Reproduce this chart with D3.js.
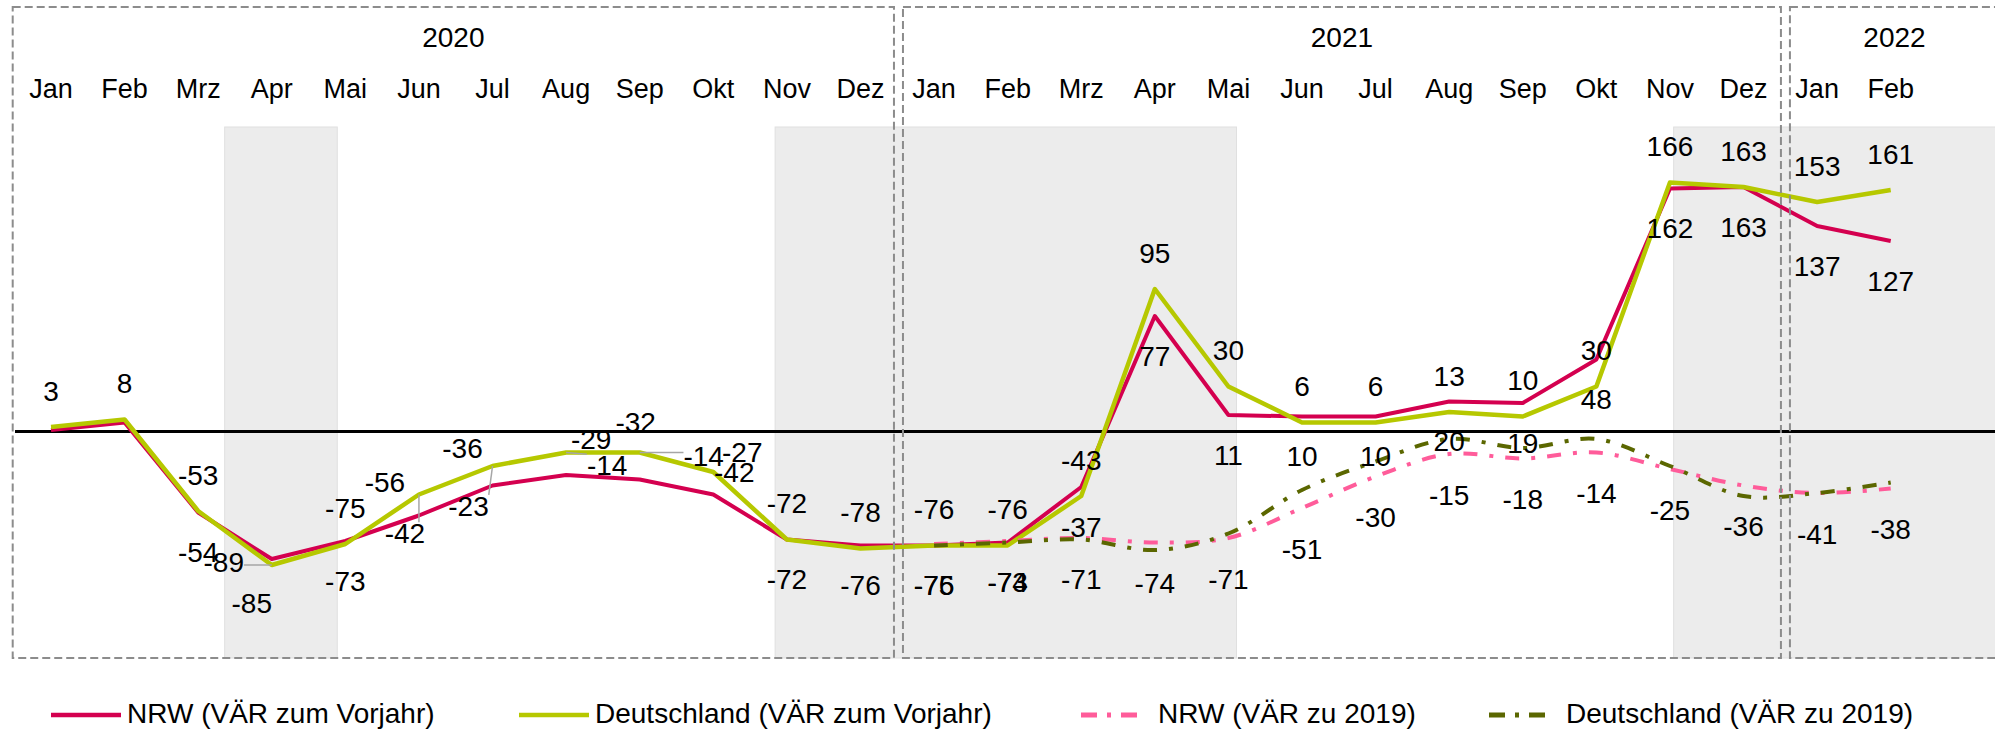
<!DOCTYPE html>
<html>
<head>
<meta charset="utf-8">
<script src="https://cdn.jsdelivr.net/npm/d3@7"></script>
<style>
  body { margin: 0; background: #fff; }
  text { font-family: "Liberation Sans", Arial, sans-serif; fill: #000; }
</style>
</head>
<body>
<div id="chart"></div>
<script>
const width = 1995, height = 731;

// data (VÄR = Veränderungsrate in %)
const years = ["2020", "2021", "2022"];
const months = ["Jan", "Feb", "Mrz", "Apr", "Mai", "Jun", "Jul", "Aug", "Sep", "Okt", "Nov", "Dez",
                "Jan", "Feb", "Mrz", "Apr", "Mai", "Jun", "Jul", "Aug", "Sep", "Okt", "Nov", "Dez",
                "Jan", "Feb"];
const nrwVorjahr = [1, 6, -54, -85, -73, -56, -36, -29, -32, -42, -72, -76,
                    -76, -74, -37, 77, 11, 10, 10, 20, 19, 48, 162, 163,
                    137, 127];
const deVorjahr = [3, 8, -53, -89, -75, -42, -23, -14, -14, -27, -72, -78,
                   -76, -76, -43, 95, 30, 6, 6, 13, 10, 30, 166, 163,
                   153, 161];
const nrw2019 = [null, null, null, null, null, null, null, null, null, null, null, null,
                 -75, -73, -71, -74, -71, -51, -30, -15, -18, -14, -25, -36,
                 -41, -38];
const de2019 = [null, null, null, null, null, null, null, null, null, null, null, null,
                -76, -74, -72, -79, -68, -39, -20, -5, -11, -5, -23, -43,
                -41, -34];
// Lockdown-Phasen in Monaten ab Jan 2020
const lockdowns = [[2.86, 4.39], [10.34, 16.61], [22.55, 27]];

// label placement: default offset per series, exceptions by month index
const labelDefault = { nrw: [0, 40], de: [0, -36], nrw2019: [0, 41], de2019: null };
const labelExceptions = {
    nrw: { 0: null, 1: null, 3: [-20, 44], 5: [-34, -33], 6: [-30, -37], 7: [25, -36], 8: [-4, -57], 9: [21, -22] },
    de: { 3: [-48, -3, true], 5: [-14, 39, true], 6: [-24, 40, true], 7: [41, 13, true], 8: [64, 4, true], 9: [29, -20] },
    nrw2019: {},
    de2019: {}
};

const series = [
    { key: "nrw", name: "NRW (VÄR zum Vorjahr)", values: nrwVorjahr, color: "#d4004f", w: 4, dash: null },
    { key: "de", name: "Deutschland (VÄR zum Vorjahr)", values: deVorjahr, color: "#b6c800", w: 4.5, dash: null },
    { key: "nrw2019", name: "NRW (VÄR zu 2019)", values: nrw2019, color: "#ff5c9a", w: 4, dash: "14,12,4,12" },
    { key: "de2019", name: "Deutschland (VÄR zu 2019)", values: de2019, color: "#5b6700", w: 4, dash: "14,12,4,12" }
];

const svg = d3.select("#chart")
    .append("svg")
    .attr("width", width)
    .attr("height", height);

const nSlots = 27;
const xt = d3.scaleLinear().domain([0, nSlots]).range([14.2, 2001.1]);
const x = d3.scaleBand().domain(d3.range(nSlots)).range(xt.range());
const xc = i => x(i) + x.bandwidth() / 2;
const y = d3.scaleLinear().domain([-151, 203]).range([658, 127]);

// shaded lockdown periods
svg.append("g").selectAll("rect")
    .data(lockdowns)
    .join("rect")
    .attr("x", d => xt(d[0]))
    .attr("width", d => xt(d[1]) - xt(d[0]))
    .attr("y", y(203))
    .attr("height", y(-151) - y(203))
    .attr("fill", "#ececec")
    .attr("stroke", "#e0e0e0")
    .attr("stroke-width", 1);

// zero line
svg.append("line")
    .attr("x1", 15).attr("x2", width)
    .attr("y1", y(0)).attr("y2", y(0))
    .attr("stroke", "#000")
    .attr("stroke-width", 3);

// month labels
const monthAxis = d3.axisTop(x)
    .tickSize(0)
    .tickPadding(0)
    .tickFormat(i => months[i] || "");
svg.append("g")
    .attr("transform", "translate(0,98)")
    .call(monthAxis)
    .call(g => g.select(".domain").remove())
    .selectAll("text")
    .style("font-size", "27px")
    .attr("font-family", null);

// lines
const lineGen = d3.line()
    .defined(d => d.v !== null)
    .x(d => xc(d.i))
    .y(d => y(d.v));

const linesGroup = svg.append("g").attr("class", "lines");
series.forEach(s => {
    const pts = s.values.map((v, i) => ({ v, i }));
    linesGroup.append("path")
        .datum(pts)
        .attr("d", lineGen.curve(s.dash ? d3.curveCatmullRom : d3.curveLinear))
        .attr("fill", "none")
        .attr("stroke", s.color)
        .attr("stroke-width", s.w)
        .attr("stroke-linejoin", "round")
        .attr("stroke-dasharray", s.dash);
});

// data labels
const labelData = [];
series.forEach(s => {
    s.values.forEach((v, i) => {
        if (v === null) return;
        const exc = labelExceptions[s.key];
        const off = (i in exc) ? exc[i] : labelDefault[s.key];
        if (!off) return;
        labelData.push({ v, i, dx: off[0], dy: off[1], leader: !!off[2] });
    });
});

const labelGroup = svg.append("g").attr("class", "labels");
const leaderGroup = labelGroup.append("g");
labelGroup.selectAll("text")
    .data(labelData)
    .join("text")
    .attr("x", d => xc(d.i) + d.dx)
    .attr("y", d => y(d.v) + d.dy)
    .attr("dy", "0.35em")
    .attr("text-anchor", "middle")
    .style("font-size", "28px")
    .text(d => d.v)
    .each(function (d) {
        if (!d.leader) return;
        const b = this.getBBox();
        const px = xc(d.i), py = y(d.v);
        const cx = Math.max(b.x, Math.min(px, b.x + b.width));
        const cy = Math.max(b.y + 4, Math.min(py, b.y + b.height - 4));
        leaderGroup.append("line")
            .attr("x1", cx).attr("y1", cy)
            .attr("x2", px).attr("y2", py)
            .attr("stroke", "#a6a6a6")
            .attr("stroke-width", 1.5);
    });

// year boxes (hand-placed frames, slightly offset from month borders)
const boxInsetL = [-1.5, 5.7, 9.6];
const boxInsetR = [-3.3, 0.6, -2];
const yearBoxes = years.map((yr, k) => {
    const left = xt(k * 12) + boxInsetL[k];
    const right = xt(Math.min((k + 1) * 12, nSlots)) + boxInsetR[k];
    return { yr, left, right };
});
const boxGroup = svg.append("g").attr("class", "boxes");
boxGroup.selectAll("rect")
    .data(yearBoxes)
    .join("rect")
    .attr("x", d => d.left)
    .attr("y", 7)
    .attr("width", d => d.right - d.left)
    .attr("height", 651)
    .attr("fill", "none")
    .attr("stroke", "#8c8c8c")
    .attr("stroke-width", 2)
    .attr("stroke-dasharray", "8,4");
boxGroup.selectAll("text")
    .data(yearBoxes)
    .join("text")
    .attr("x", d => (d.left + d.right) / 2)
    .attr("y", 47)
    .attr("text-anchor", "middle")
    .style("font-size", "28px")
    .text(d => d.yr);

// legend
const legendX = [51, 519, 1081, 1489];
const legend = svg.append("g").attr("class", "legend")
    .selectAll("g")
    .data(series)
    .join("g")
    .attr("transform", (d, i) => `translate(${legendX[i]},715)`);
legend.append("line")
    .attr("x1", 0)
    .attr("x2", (d, i) => i < 2 ? 70 : 60)
    .attr("stroke", d => d.color)
    .attr("stroke-width", d => d.dash ? 5 : 4.5)
    .attr("stroke-dasharray", d => d.dash ? "16,10,4,10" : null);
legend.append("text")
    .attr("x", (d, i) => i < 2 ? 76 : 77)
    .attr("y", 8)
    .style("font-size", "28px")
    .text(d => d.name);
</script>
</body>
</html>
